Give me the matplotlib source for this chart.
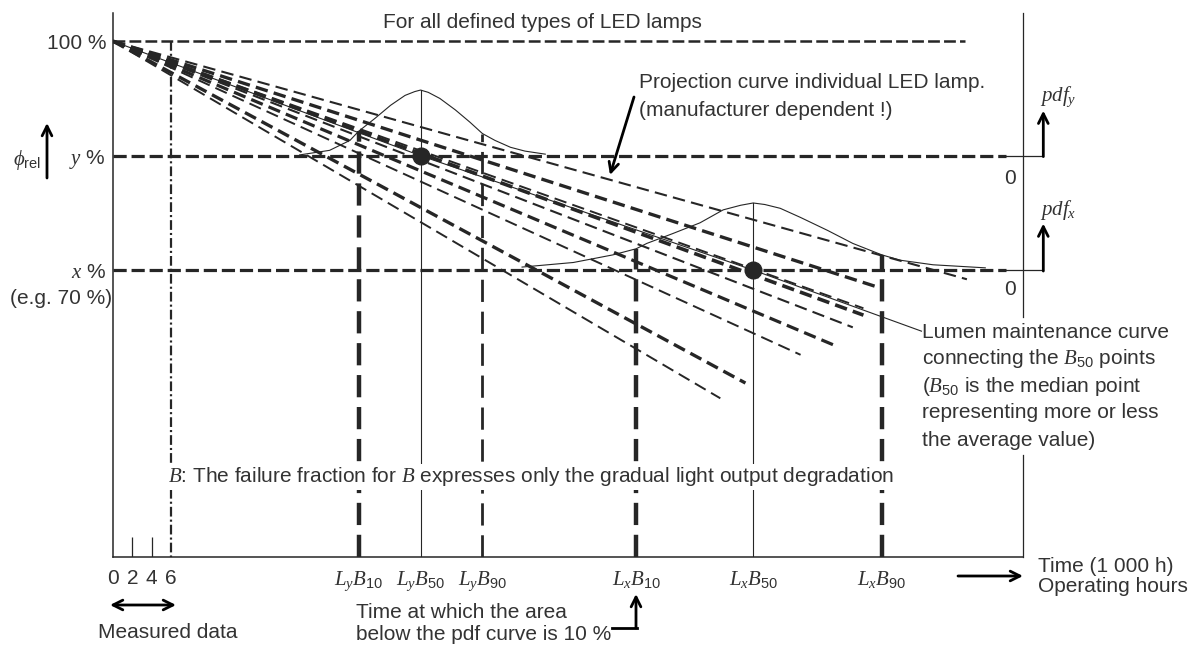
import numpy as np
import matplotlib.pyplot as plt

plt.rcParams['font.family'] = ['Liberation Sans', 'DejaVu Sans']
plt.rcParams['mathtext.fontset'] = 'custom'
plt.rcParams['mathtext.rm'] = 'Liberation Sans'
plt.rcParams['mathtext.it'] = 'Liberation Serif:italic'
plt.rcParams['mathtext.bf'] = 'Liberation Sans:bold'
plt.rcParams['lines.scale_dashes'] = False

INK = '#262626'
TXT = '#333333'
FS = 15
W, H = 1196, 648

# time in 1 000 h, relative luminous flux in %
level_y = 85
level_x = 70
measured_ticks = [0, 2, 4, 6]
measured_end = 6

# individual lamp projections, all starting at (0, 100 %)
lamp_end_time = [88.3, 79.5, 77.6, 77.6, 76.5, 74.5, 71.1, 65.4, 62.8]
lamp_end_flux = [68.8, 67.6, 65.0, 64.1, 62.5, 60.2, 58.9, 55.2, 53.2]
lamp_width = [1.5, 2.4, 1.4, 2.6, 1.5, 2.3, 1.4, 2.4, 1.4]

# pdf of lamps reaching y %
pdf_y_time = [19.3, 22.4, 24.5, 25.4, 27.1, 28.7, 30.2, 31.2, 31.8, 32.6,
              33.8, 35.4, 36.9, 38.2, 39.5, 41.1, 42.6, 44.7]
pdf_y_flux = [85.1, 85.7, 87.0, 88.2, 89.9, 91.6, 92.9, 93.4, 93.6, 93.3,
              92.5, 91.0, 89.4, 87.9, 87.0, 86.1, 85.6, 85.2]

# pdf of lamps reaching x %
pdf_x_time = [42.3, 47.6, 51.7, 54.1, 55.2, 57.9, 60.7, 63.1, 64.9, 66.2,
              67.4, 69.0, 71.1, 73.9, 76.5, 79.5, 81.4, 84.8, 90.2]
pdf_x_flux = [70.4, 71.0, 72.0, 72.8, 73.5, 74.8, 76.2, 77.9, 78.5, 78.8,
              78.6, 78.1, 76.9, 75.2, 73.5, 72.0, 71.3, 70.7, 70.3]

b_time_y = [25.4, 31.8, 38.2]
b_time_x = [54.1, 66.2, 79.5]
b_labels_y = ['$L_yB_{10}$', '$L_yB_{50}$', '$L_yB_{90}$']
b_labels_x = ['$L_xB_{10}$', '$L_xB_{50}$', '$L_xB_{90}$']

# lumen maintenance curve through the B50 points
maint_time = [0, 31.8, 66.2, 83.6]
maint_flux = [100, 85, 70, 62.0]


def fp(x, y):
    """pixel position -> figure fraction"""
    return x / W, 1 - y / H


fig = plt.figure(figsize=(W / 100, H / 100), dpi=100)
ax = fig.add_axes([113 / W, 1 - 557 / H, 910 / W, 544 / H])
ax.set_xlim(0, 94.1)
ax.set_ylim(32.4, 103.7)
t_max = ax.get_xlim()[1]
f_min, f_max = ax.get_ylim()

for side in ['top', 'right']:
    ax.spines[side].set_visible(False)
for side in ['left', 'bottom']:
    ax.spines[side].set_color(INK)
    ax.spines[side].set_linewidth(1.1)

# ticks: measured hours and B-life points
ax.set_xticks(measured_ticks + b_time_y + b_time_x,
              [str(t) for t in measured_ticks] + b_labels_y + b_labels_x)
ax.set_yticks([100, level_y, level_x], ['100 %', '$y$ %', '$x$ %'])
ax.tick_params(axis='x', length=0, pad=9, labelsize=FS, labelcolor=TXT)
ax.tick_params(axis='y', length=0, pad=5, labelsize=FS, labelcolor=TXT)
ax.vlines(measured_ticks[1:-1], f_min, f_min + 2.6, color=INK, lw=0.9)

# right hand pdf axis (broken around the annotation text)
ax.plot([t_max, t_max], [63.8, f_max], color=INK, lw=0.9, clip_on=False)
ax.plot([t_max, t_max], [f_min, 45.8], color=INK, lw=0.9, clip_on=False)

# reference levels
ax.plot([0, 88.1], [100, 100], color=INK, lw=1.8, dashes=(8.5, 3))
for lvl, tip in [(level_y, 5.9), (level_x, 6.1)]:
    ax.plot([0, 92.3], [lvl, lvl], color=INK, lw=2.3, dashes=(9.5, 3.5))
    ax.plot([92.3, 96.2], [lvl, lvl], color=INK, lw=0.9, clip_on=False)
    ax.annotate('', xy=(96.2, lvl + tip), xytext=(96.2, lvl - 0.12),
                annotation_clip=False,
                arrowprops=dict(arrowstyle='->,head_length=0.7,head_width=0.35',
                                color='black', lw=2, shrinkA=0, shrinkB=0))

# measured period
ax.plot([measured_end, measured_end], [100, f_min], color=INK, lw=1.6,
        dashes=(7, 2.2, 1.5, 2.2))

# individual lamp projections
for t_end, f_end, lw in zip(lamp_end_time, lamp_end_flux, lamp_width):
    ax.plot([0, t_end], [100, f_end], color=INK, lw=lw, dashes=(9, 4.5))

# pdf curves
ax.plot(pdf_y_time, pdf_y_flux, color=INK, lw=0.8)
ax.plot(pdf_x_time, pdf_x_flux, color=INK, lw=0.8)

# B-life verticals
for times, pt, pf in [(b_time_y, pdf_y_time, pdf_y_flux),
                      (b_time_x, pdf_x_time, pdf_x_flux)]:
    tops = np.interp(times, pt, pf)
    ax.plot([times[0]] * 2, [f_min, tops[0]], color=INK, lw=3.2, dashes=(16, 7))
    ax.plot([times[1]] * 2, [f_min, tops[1]], color=INK, lw=0.8)
    lw90 = 2.0 if times is b_time_y else 3.2
    ax.plot([times[2]] * 2, [f_min, tops[2]], color=INK, lw=lw90, dashes=(16, 7))

# lumen maintenance curve and B50 points
ax.plot(maint_time, maint_flux, color=INK, lw=0.8)
ax.plot(maint_time[1:3], maint_flux[1:3], 'o', color=INK, ms=12)

# texts
ax.text(92.8, 82.0, '0', fontsize=FS, color=TXT, ha='center', va='center')
ax.text(92.8, 67.4, '0', fontsize=FS, color=TXT, ha='center', va='center')
fig.text(*fp(1040, 97), '$pdf_y$', fontsize=FS, color=TXT, va='center')
fig.text(*fp(1040, 210), '$pdf_x$', fontsize=FS, color=TXT, va='center')
fig.text(*fp(112, 298), '(e.g. 70 %)', fontsize=FS, color=TXT, ha='right', va='center')
fig.text(*fp(13, 160), r'$\phi_{\mathrm{rel}}$', fontsize=FS, color=TXT, va='center')
fig.text(*fp(383, 23), 'For all defined types of LED lamps', fontsize=FS, color=TXT, va='center')
fig.text(*fp(639, 83), 'Projection curve individual LED lamp.', fontsize=FS, color=TXT, va='center')
fig.text(*fp(639, 110), '(manufacturer dependent !)', fontsize=FS, color=TXT, va='center')
maint_lines = ['Lumen maintenance curve', 'connecting the $B_{50}$ points',
               '($B_{50}$ is the median point', 'representing more or less',
               'the average value)']
for i, line in enumerate(maint_lines):
    fig.text(*fp(922, 332 + 27 * i), line, fontsize=FS, color=TXT, va='center')
fig.text(*fp(168, 477), '$B$: The failure fraction for $B$ expresses only the gradual light output degradation',
         fontsize=FS, color=TXT, va='center', zorder=5,
         bbox=dict(facecolor='white', edgecolor='none', pad=1))
fig.text(*fp(168, 632), 'Measured data', fontsize=FS, color=TXT, ha='center', va='center')
fig.text(*fp(356, 612), 'Time at which the area', fontsize=FS, color=TXT, va='center')
fig.text(*fp(356, 634), 'below the pdf curve is 10 %', fontsize=FS, color=TXT, va='center')
fig.text(*fp(1038, 566), 'Time (1 000 h)', fontsize=FS, color=TXT, va='center')
fig.text(*fp(1038, 587), 'Operating hours', fontsize=FS, color=TXT, va='center')

# arrows
arrow = dict(arrowstyle='->,head_length=0.7,head_width=0.35', color='black', lw=2,
             shrinkA=0, shrinkB=0)
fig_arrows = [((47, 178), (47, 123)), ((634, 97), (610, 175)),
              ((958, 576), (1023, 576)), ((636, 628), (636, 594))]
for (x0, y0), (x1, y1) in fig_arrows:
    ax.annotate('', xy=fp(x1, y1), xytext=fp(x0, y0), xycoords='figure fraction',
                textcoords='figure fraction', arrowprops=arrow)
ax.annotate('', xy=fp(110, 605), xytext=fp(176, 605), xycoords='figure fraction',
            textcoords='figure fraction',
            arrowprops=dict(arrow, arrowstyle='<->,head_length=0.7,head_width=0.35'))
fig.add_artist(plt.Line2D([612 / W, 637 / W], [1 - 628 / H] * 2, color='black', lw=2))

fig.savefig('out.png', dpi=100)
